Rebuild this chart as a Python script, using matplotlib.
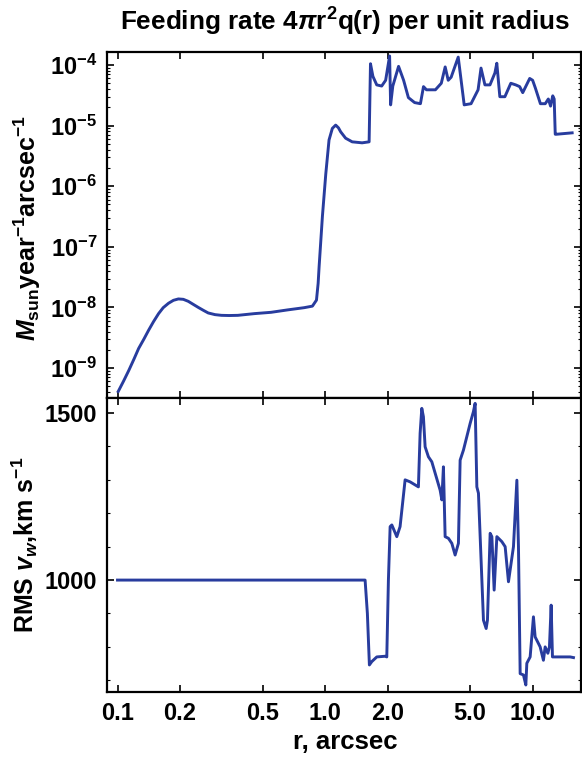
import numpy as np
import matplotlib
matplotlib.use("Agg")
from matplotlib import pyplot as plt
from matplotlib.ticker import LogLocator, MultipleLocator, NullLocator, FixedLocator, FixedFormatter, NullFormatter

plt.rcParams['font.family'] = ['Liberation Sans', 'DejaVu Sans']
plt.rcParams['font.weight'] = 'bold'
plt.rcParams['mathtext.fontset'] = 'custom'
plt.rcParams['mathtext.rm'] = 'Liberation Sans:bold'
plt.rcParams['mathtext.bf'] = 'Liberation Sans:bold'
plt.rcParams['mathtext.sf'] = 'Liberation Sans:bold'
plt.rcParams['mathtext.it'] = 'Liberation Sans:italic:bold'
plt.rcParams['mathtext.default'] = 'rm'

# top panel: feeding rate per unit radius
r_feed = [0.1008, 0.1070, 0.1133, 0.1200, 0.1264, 0.1340, 0.1412, 0.1490, 0.1577, 0.166,
          0.176, 0.186, 0.1965, 0.2075, 0.2193, 0.232, 0.245, 0.260, 0.2735, 0.295,
          0.317, 0.345, 0.380, 0.457, 0.549, 0.660, 0.793, 0.869, 0.909, 0.926, 0.936,
          0.971, 1.008, 1.045, 1.084, 1.125, 1.160, 1.189, 1.256, 1.351, 1.508, 1.630,
          1.655, 1.700, 1.774, 1.874, 1.958, 2.046, 2.069, 2.12, 2.26, 2.39,
          2.52, 2.70, 2.88, 2.98, 3.08, 3.40, 3.63, 3.79, 3.92, 4.05,
          4.38, 4.68, 5.05, 5.46, 5.64, 5.89, 6.23, 6.58, 6.72, 6.95,
          7.35, 7.85, 8.29, 8.66, 8.96, 9.68, 10.0, 10.3, 10.9, 11.5,
          11.9, 12.2, 12.5, 12.7, 12.85, 13.0, 15.5]
feed = [4.1e-10, 6.1e-10, 9.1e-10, 1.4e-9, 2.1e-9, 3.0e-9, 4.2e-9, 5.8e-9, 7.9e-9, 9.9e-9,
        1.17e-8, 1.31e-8, 1.38e-8, 1.36e-8, 1.26e-8, 1.12e-8, 1.0e-8, 8.9e-9, 8.1e-9, 7.6e-9,
        7.4e-9, 7.35e-9, 7.4e-9, 7.9e-9, 8.3e-9, 9.1e-9, 9.9e-9, 1.05e-8, 1.32e-8, 2.5e-8, 4.7e-8,
        3.2e-7, 1.6e-6, 5.8e-6, 9.0e-6, 1.02e-5, 9.2e-6, 7.9e-6, 6.2e-6, 5.4e-6, 5.2e-6, 5.4e-6,
        1.05e-4, 6.5e-5, 4.7e-5, 4.5e-5, 5.6e-5, 1.41e-4, 2.2e-5, 4.5e-5, 9.5e-5, 5.6e-5,
        2.9e-5, 2.4e-5, 2.3e-5, 4.4e-5, 3.9e-5, 3.9e-5, 5.0e-5, 9.3e-5, 5.6e-5, 6.3e-5,
        1.35e-4, 2.2e-5, 2.3e-5, 3.9e-5, 8.9e-5, 4.7e-5, 4.7e-5, 7.4e-5, 1.07e-4, 3.0e-5,
        3.0e-5, 5.0e-5, 4.7e-5, 4.4e-5, 3.5e-5, 6.0e-5, 5.6e-5, 4.2e-5, 2.3e-5, 2.3e-5,
        2.75e-5, 2.1e-5, 3.1e-5, 2.75e-5, 7.2e-6, 7.2e-6, 7.6e-6]

# bottom panel: RMS wind velocity
r_vw = [0.1, 1.559, 1.599, 1.635, 1.679, 1.775, 1.946, 1.983, 2.019, 2.058,
        2.097, 2.216, 2.298, 2.430, 2.568, 2.816, 2.870, 2.924, 2.977, 3.034,
        3.147, 3.268, 3.584, 3.652, 3.717, 3.788, 3.929, 4.080, 4.232, 4.390,
        4.474, 4.641, 5.000, 5.184, 5.284, 5.385, 5.482, 5.795, 5.971, 6.058,
        6.242, 6.361, 6.525, 6.724, 7.107, 7.372, 7.648, 8.084, 8.395, 8.545,
        8.707, 9.031, 9.273, 9.376, 9.727, 10.09, 10.28, 10.87, 11.27, 11.49,
        11.84, 12.05, 12.28, 12.46, 13.57, 15.16, 15.73]
vw = [1000, 1000, 900, 746, 756, 770, 772, 770, 1000, 1160,
      1165, 1130, 1160, 1300, 1294, 1279, 1439, 1514, 1489, 1399,
      1369, 1354, 1269, 1240, 1339, 1130, 1125, 1110, 1075, 1110,
      1359, 1389, 1469, 1504, 1529, 1279, 1260, 880, 855, 880,
      1140, 1130, 970, 1130, 1115, 1100, 995, 1100, 1299, 1100,
      720, 716, 686, 751, 770, 890, 830, 800, 760, 800,
      781, 800, 925, 770, 770, 770, 768]

xticks = [0.1, 0.2, 0.5, 1.0, 2.0, 5.0, 10.0]
xlabels = ["0.1", "0.2", "0.5", "1.0", "2.0", "5.0", "10.0"]
feed_ticks = [1e-9, 1e-8, 1e-7, 1e-6, 1e-5, 1e-4]
feed_labels = ["10$^{-9}$", "10$^{-8}$", "10$^{-7}$", "10$^{-6}$", "10$^{-5}$", "10$^{-4}$"]

W, H = 582, 760
fig = plt.figure(figsize=(W / 100, H / 100), dpi=100)
ax1 = fig.add_axes([107 / W, 1 - 398 / H, 474 / W, 346 / H])
ax2 = fig.add_axes([107 / W, 1 - 692 / H, 474 / W, 294 / H], sharex=ax1)

col = '#283c9e'
ax1.plot(r_feed, feed, color=col, lw=2.1)
ax2.plot(r_vw, vw, color=col, lw=2.1)

ax1.set_xscale('log')
ax1.set_yscale('log')
ax1.set_xlim(0.089, 17.1)
ax1.set_ylim(3.2e-10, 1.64e-4)
ax1.yaxis.set_major_locator(FixedLocator(feed_ticks))
ax1.yaxis.set_major_formatter(FixedFormatter(feed_labels))
ax1.yaxis.set_minor_locator(LogLocator(base=10, subs=np.arange(2, 10), numticks=20))
ax1.yaxis.set_minor_formatter(NullFormatter())

ax2.xaxis.set_major_locator(FixedLocator(xticks))
ax2.xaxis.set_major_formatter(FixedFormatter(xlabels))
ax2.xaxis.set_minor_locator(NullLocator())
ax2.set_ylim(665, 1545)
ax2.yaxis.set_major_locator(FixedLocator([1000, 1500]))
ax2.yaxis.set_minor_locator(MultipleLocator(100))

for ax in (ax1, ax2):
    for s in ax.spines.values():
        s.set_linewidth(1.6)
    ax.tick_params(which='both', direction='in', top=True, right=True, labelsize=17)
    ax.tick_params(which='major', length=5, width=1.2, pad=7)
    ax.tick_params(which='minor', length=2.5, width=0.8)
ax1.tick_params(labelbottom=False)

fig.text(345 / W, 1 - 22 / H, "Feeding rate 4$\\mathit{\\pi}$r$^2$q(r) per unit radius",
         ha='center', va='center', fontsize=18.8)
fig.text(27 / W, 1 - 228 / H, "$\\mathit{M}_{\\mathrm{sun}}$year$^{-1}$arcsec$^{-1}$",
         ha='center', va='center', rotation=90, fontsize=18)
fig.text(25 / W, 1 - 545 / H, "RMS $\\mathit{v}_{\\mathit{w}}$,km s$^{-1}$",
         ha='center', va='center', rotation=90, fontsize=18)
fig.text(345 / W, 1 - 742 / H, "r, arcsec", ha='center', va='center', fontsize=18.5)

fig.savefig("out.png", dpi=100)
